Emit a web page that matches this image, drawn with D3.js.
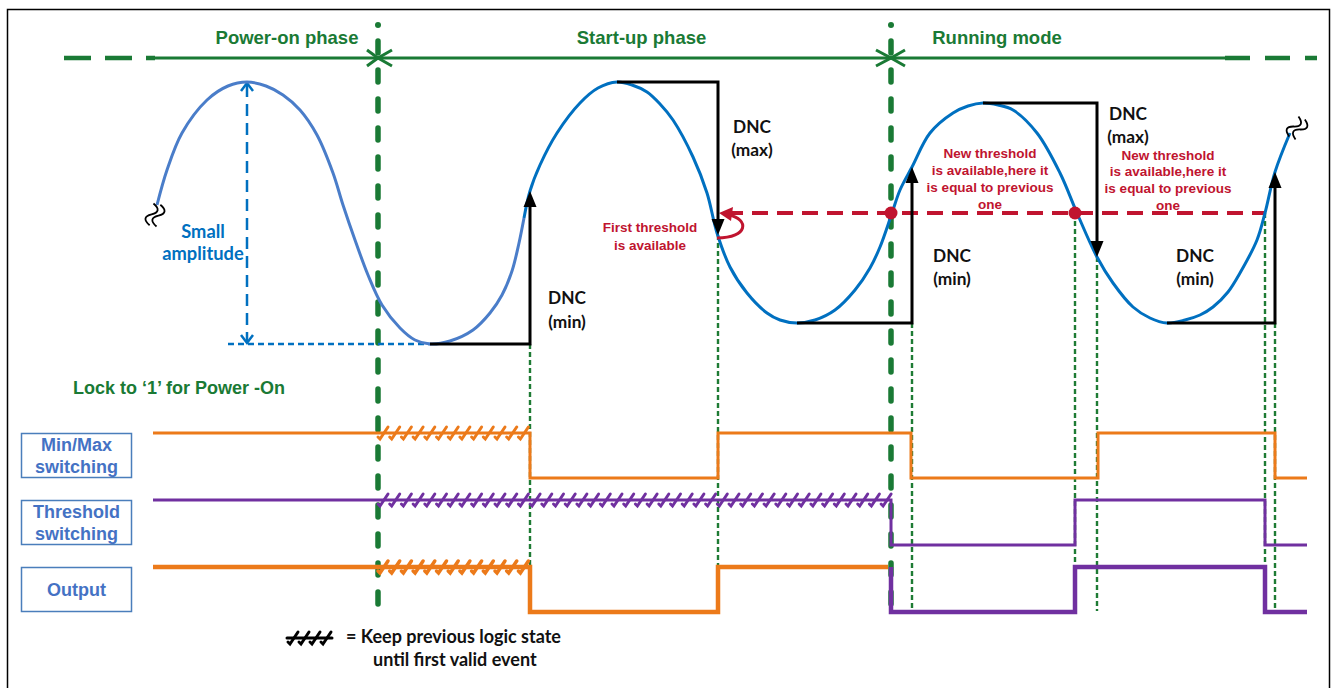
<!DOCTYPE html>
<html>
<head>
<meta charset="utf-8">
<script src="https://cdn.jsdelivr.net/npm/d3@7"></script>
<style>
  body { margin: 0; background: #fff; }
  svg { display: block; }
</style>
</head>
<body>
<svg id="chart" width="1332" height="688"></svg>
<script>
// ---- data (time t in samples, signal v in mV-ish units) ----
const phases = ['Power-on phase', 'Start-up phase', 'Running mode'];
const phaseBounds = [228, 741];
const phaseCenters = [137, 491.5, 847];

// input signal: power-on part and the part after the first event
const waveA = [[7,8],[17,43],[32,80],[57,113],[78,127],[97,131],[116,127],[133,118],[150,103],[167,78],[183,40],[193,8],[205,-27],[218,-62],[232,-92],[250,-115],[265,-127],[280,-131],[300,-128],[323,-117],[340,-100],[352,-82],[362,-58],[369,-30],[374,-5]];
const waveB = [[374,-5],[380,22],[390,48],[407,80],[430,110],[448,125],[467,131],[482,128],[497,121],[510,109],[523,93],[543,56],[557,20],[567,-20],[580,-54],[597,-80],[617,-100],[630,-107],[647,-110],[665,-107],[685,-97],[705,-77],[720,-55],[730,-34],[742,0],[750,23],[762,46],[780,80],[803,100],[818,107],[833,110],[848,108],[863,103],[887,80],[910,40],[927,0],[947,-44],[963,-70],[983,-94],[1000,-105],[1017,-110],[1035,-107],[1050,-102],[1063,-94],[1078,-79],[1090,-60],[1107,-27],[1115,0],[1125,41],[1140,80]];

// DNC detection (min / max hold then jump)
const dncKind  = ['min', 'max', 'min', 'max', 'min'];
const dncFrom  = [280, 467, 647, 833, 1017];
const dncAt    = [380, 568, 762, 947, 1125];
const dncLevel = [-131, 131, -110, 110, -110];
const dncTip   = [22, -22, 46, -44, 41];

// threshold
const thrStart = 577, thrEnd = 1115, thrLevel = 0;
const thrDots = [741, 925];

// events projected to the logic rows
const eventT = [380, 568, 762, 925, 947, 1115, 1125];
const eventV = [-131, -22, -110, 0, -44, 0, -110];

// logic rows
const rows = ['Min/Max switching', 'Threshold switching', 'Output'];
const minMaxSteps    = [[3,1],[380,0],[568,1],[761,0],[948,1],[1125,0],[1157,0]];
const thresholdSteps = [[3,1],[741,0],[925,1],[1115,0],[1157,0]];
const outputOrange   = [[3,1],[380,0],[568,1],[738,1]];
const outputPurple   = [[741,1],[741,0],[925,1],[1115,0],[1157,0]];
const holdMinMax = [228, 380];
const holdThreshold = [228, 738];
const holdOutput = [228, 380];

// ---- setup ----
const svg = d3.select('#chart');
const x = d3.scaleLinear().domain([0, 1170]).range([150, 1320]);
const y = d3.scaleLinear().domain([-120, 120]).range([333, 93]);
const rowY = d3.scalePoint().domain(rows).range([433, 567]);
const lvl = d3.scaleLinear().domain([1, 0]).range([0, 45]);

const GREEN = '#1a7a35', ORANGE = '#ec7a1a', PURPLE = '#7030a0', RED = '#c0142f';
const ARIAL = '"Liberation Sans", Arial, sans-serif';
const CALIBRI = 'Lato, "Open Sans", sans-serif';

function textBlock(lines, cx, cy, lh, size, color, family, anchor) {
    const t = svg.append('text')
        .attr('font-family', family)
        .attr('font-weight', 'bold')
        .attr('font-size', size)
        .attr('fill', color)
        .attr('text-anchor', anchor || 'middle');
    const top = cy - (lines.length - 1) * lh / 2;
    lines.forEach((l, i) => {
        t.append('tspan').attr('x', cx).attr('y', top + i * lh).attr('dy', '0.36em').text(l);
    });
    return t;
}

// frame
svg.append('rect')
    .attr('x', 7.5).attr('y', 9.5).attr('width', 1322).attr('height', 700)
    .attr('fill', 'none').attr('stroke', '#000').attr('stroke-width', 1.5);

// ---- timeline on top ----
const tl = 58;
svg.append('line').attr('x1', x(-86)).attr('x2', x(5)).attr('y1', tl).attr('y2', tl)
    .attr('stroke', GREEN).attr('stroke-width', 4.5).attr('stroke-dasharray', '27 14');
svg.append('line').attr('x1', x(5)).attr('x2', x(1075)).attr('y1', tl).attr('y2', tl)
    .attr('stroke', GREEN).attr('stroke-width', 3);
svg.append('line').attr('x1', x(1075)).attr('x2', x(1167)).attr('y1', tl).attr('y2', tl)
    .attr('stroke', GREEN).attr('stroke-width', 4.5).attr('stroke-dasharray', '25 15');

phaseBounds.forEach((b, i) => {
    const bx = x(b);
    svg.append('circle').attr('cx', bx).attr('cy', 25).attr('r', 3).attr('fill', GREEN);
    svg.append('line').attr('x1', bx).attr('x2', bx).attr('y1', 41).attr('y2', 610)
        .attr('stroke', GREEN).attr('stroke-width', 5.5)
        .attr('stroke-linecap', 'round').attr('stroke-dasharray', '12 17');
    const w = i === 0 ? 11 : 15;
    svg.append('path')
        .attr('d', `M${bx - w},${tl - 8}L${bx},${tl}L${bx - w},${tl + 8}`)
        .attr('fill', 'none').attr('stroke', GREEN).attr('stroke-width', 3);
    svg.append('path')
        .attr('d', `M${bx + 14},${tl - 8}L${bx},${tl}L${bx + 14},${tl + 8}`)
        .attr('fill', 'none').attr('stroke', GREEN).attr('stroke-width', 3);
});

phases.forEach((p, i) => {
    textBlock([p], x(phaseCenters[i]), 37, 0, 18.5, GREEN, ARIAL);
});

// ---- green dotted event markers ----
eventT.forEach((t, i) => {
    svg.append('line')
        .attr('x1', x(t)).attr('x2', x(t))
        .attr('y1', y(eventV[i])).attr('y2', 611)
        .attr('stroke', '#1e7b34').attr('stroke-width', 2.4)
        .attr('stroke-dasharray', '5 3');
});

// ---- small amplitude annotation ----
const AMP = '#0070c0';
svg.append('line').attr('x1', x(78)).attr('x2', x(280)).attr('y1', y(-131)).attr('y2', y(-131))
    .attr('stroke', AMP).attr('stroke-width', 2.5).attr('stroke-dasharray', '6 4');
svg.append('line').attr('x1', x(97)).attr('x2', x(97)).attr('y1', y(128)).attr('y2', y(-128))
    .attr('stroke', AMP).attr('stroke-width', 2.5).attr('stroke-dasharray', '12 7');
svg.append('path')
    .attr('d', `M${x(97) - 6},${y(131) + 9}L${x(97)},${y(131) + 1}L${x(97) + 6},${y(131) + 9}`)
    .attr('fill', 'none').attr('stroke', AMP).attr('stroke-width', 2.5);
svg.append('path')
    .attr('d', `M${x(97) - 6},${y(-131) - 9}L${x(97)},${y(-131) - 1}L${x(97) + 6},${y(-131) - 9}`)
    .attr('fill', 'none').attr('stroke', AMP).attr('stroke-width', 2.5);
textBlock(['Small', 'amplitude'], 203, 242, 22, 18.3, AMP, CALIBRI);

// ---- threshold line ----
svg.append('line').attr('x1', x(thrStart)).attr('x2', x(thrEnd))
    .attr('y1', y(thrLevel)).attr('y2', y(thrLevel))
    .attr('stroke', RED).attr('stroke-width', 4).attr('stroke-dasharray', '16 9');

// ---- input wave ----
const wave = d3.line().x(d => x(d[0])).y(d => y(d[1])).curve(d3.curveCatmullRom.alpha(0.5));
svg.append('path').attr('d', wave(waveA)).attr('fill', 'none')
    .attr('stroke', '#4a7dc9').attr('stroke-width', 3);
svg.append('path').attr('d', wave(waveB)).attr('fill', 'none')
    .attr('stroke', '#0070c0').attr('stroke-width', 3);

thrDots.forEach(t => {
    svg.append('circle').attr('cx', x(t)).attr('cy', y(thrLevel)).attr('r', 6.5).attr('fill', RED);
});

// first threshold curly arrow
const ax = x(thrStart), ay = y(thrLevel);
svg.append('path')
    .attr('d', `M${ax - 10},${ay + 25}C${ax + 22},${ay + 25} ${ax + 22},${ay + 6} ${ax + 2},${ay + 2}`)
    .attr('fill', 'none').attr('stroke', RED).attr('stroke-width', 3);
svg.append('path')
    .attr('d', `M${ax - 8},${ay}L${ax + 6},${ay - 6}L${ax + 4},${ay + 8}Z`)
    .attr('fill', RED);

// ---- DNC steps ----
dncKind.forEach((k, i) => {
    const x0 = x(dncFrom[i]), x1 = x(dncAt[i]);
    const yl = y(dncLevel[i]), yt = y(dncTip[i]);
    const dir = k === 'min' ? 1 : -1;   // arrow goes up for min
    svg.append('path')
        .attr('d', `M${x0},${yl}L${x1},${yl}L${x1},${yt + dir * 12}`)
        .attr('fill', 'none').attr('stroke', '#000').attr('stroke-width', 3);
    svg.append('path')
        .attr('d', `M${x1},${yt}L${x1 - 6.5},${yt + dir * 16}L${x1 + 6.5},${yt + dir * 16}Z`)
        .attr('fill', '#000');
});

// DNC labels
textBlock(['DNC', '(min)'], 567, 310, 24, 17.3, '#111', CALIBRI);
textBlock(['DNC', '(max)'], 752, 138, 23, 17.3, '#111', CALIBRI);
textBlock(['DNC', '(min)'], 952, 267, 23, 17.3, '#111', CALIBRI);
textBlock(['DNC', '(max)'], 1128, 125, 23, 17.3, '#111', CALIBRI);
textBlock(['DNC', '(min)'], 1195, 267, 23, 17.3, '#111', CALIBRI);

// red notes
textBlock(['First threshold', 'is available'], 650, 236, 18, 13.5, RED, ARIAL);
textBlock(['New threshold', 'is available,here it', 'is equal to previous', 'one'], 990, 178.5, 17, 13.5, RED, ARIAL);
textBlock(['New threshold', 'is available,here it', 'is equal to previous', 'one'], 1168, 180, 16.8, 13.5, RED, ARIAL);

// squiggles at both ends of the wave
function squiggle(cx, cy, rot) {
    const g = svg.append('g').attr('transform', `translate(${cx},${cy}) rotate(${rot})`);
    [-3.5, 3.5].forEach(o => {
        g.append('path')
            .attr('d', `M-11,${o}C-7,${o - 7} -3,${o - 7} 0,${o}S7,${o + 7} 11,${o}`)
            .attr('fill', 'none').attr('stroke', '#000').attr('stroke-width', 1.8);
    });
}
squiggle(155, 215, -80);
squiggle(1297, 128, -65);

// ---- logic rows ----
textBlock(['Lock to \u20181\u2019 for Power -On'], 73, 388, 0, 18, GREEN, ARIAL, 'start');

const rowBox = { w: 110, h: 44 };
const rowLines = [['Min/Max', 'switching'], ['Threshold', 'switching'], ['Output']];
rows.forEach((r, i) => {
    const top = rowY(r);
    svg.append('rect').attr('x', 21.5).attr('y', top + 0.5).attr('width', rowBox.w).attr('height', rowBox.h)
        .attr('fill', 'none').attr('stroke', '#4a7ebb').attr('stroke-width', 1.5);
    textBlock(rowLines[i], 21.5 + rowBox.w / 2, top + rowBox.h / 2 + 0.5, 22.5, 18, '#4472c4', ARIAL);
});

function stepPath(row, pts) {
    return d3.line().x(d => x(d[0])).y(d => rowY(row) + lvl(d[1])).curve(d3.curveStepAfter)(pts);
}
function hatch(row, span, color, level, width) {
    const yy = rowY(row) + lvl(level);
    const g = svg.append('g').attr('stroke', color).attr('stroke-width', width).attr('stroke-linecap', 'round').attr('fill', 'none');
    d3.range(span[0] + 6, span[1] + 1, 11.7).forEach(t => {
        const cx = x(t);
        g.append('path').attr('d', `M${cx - 6},${yy + 4}L${cx - 4},${yy + 6}L${cx + 4},${yy - 6}`);
    });
}

svg.append('path').attr('d', stepPath(rows[0], minMaxSteps)).attr('fill', 'none')
    .attr('stroke', ORANGE).attr('stroke-width', 3);
hatch(rows[0], holdMinMax, ORANGE, 1, 3);

svg.append('path').attr('d', stepPath(rows[1], thresholdSteps)).attr('fill', 'none')
    .attr('stroke', PURPLE).attr('stroke-width', 3);
hatch(rows[1], holdThreshold, PURPLE, 1, 3);

svg.append('path').attr('d', stepPath(rows[2], outputOrange)).attr('fill', 'none')
    .attr('stroke', ORANGE).attr('stroke-width', 4.5);
hatch(rows[2], holdOutput, ORANGE, 1, 3.5);
svg.append('path').attr('d', stepPath(rows[2], outputPurple)).attr('fill', 'none')
    .attr('stroke', PURPLE).attr('stroke-width', 4.5);

// ---- legend ----
const lg = svg.append('g').attr('stroke', '#000').attr('stroke-width', 3).attr('stroke-linecap', 'round').attr('fill', 'none');
lg.append('line').attr('x1', 287).attr('x2', 332).attr('y1', 638).attr('y2', 638);
d3.range(4).forEach(i => {
    const cx = 294 + i * 11;
    lg.append('path').attr('d', `M${cx - 6},${638 + 4}L${cx - 4},${638 + 6}L${cx + 4},${638 - 6}`);
});
textBlock(['= Keep previous logic state'], 346, 637, 0, 18, '#111', CALIBRI, 'start');
textBlock(['until first valid event'], 373, 660, 0, 18, '#111', CALIBRI, 'start');
</script>
</body>
</html>
